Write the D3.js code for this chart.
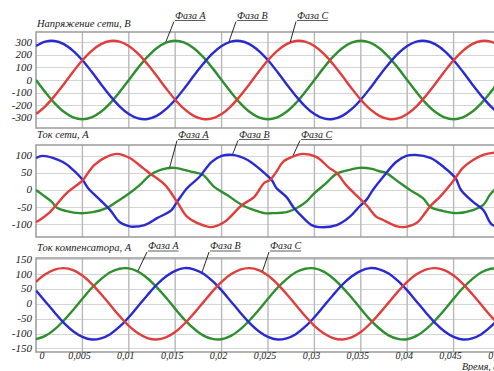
<!DOCTYPE html>
<html>
<head>
<meta charset="utf-8">
<script src="https://cdn.jsdelivr.net/npm/d3@7/dist/d3.min.js"></script>
<style>
  html, body { margin: 0; padding: 0; background: #fff; }
  svg { display: block; }
  text { font-family: "Liberation Serif", "Times New Roman", serif; font-style: italic; fill: #1a1a1a; }
</style>
</head>
<body>
<svg id="chart" width="494" height="371"></svg>
<script>
// ---- data -------------------------------------------------------------
// sample times for the voltage and compensator panels, ms
const timeMs = [0,1,2,3,4,5,6,7,8,9,10,11,12,13,14,15,16,17,18,19,20,
  21,22,23,24,25,26,27,28,29,30,31,32,33,34,35,36,37,38,39,40,
  41,42,43,44,45,46,47,48,49,50];

// grid voltage, V
const voltageA = [0,-96,-183,-252,-296,-311,-296,-252,-183,-96,0,96,183,252,296,311,296,252,183,96,
  0,-96,-183,-252,-296,-311,-296,-252,-183,-96,0,96,183,252,296,311,296,252,183,96,
  0,-96,-183,-252,-296,-311,-296,-252,-183,-96,0];
const voltageB = [269,304,309,284,231,156,65,-33,-126,-208,-269,-304,-309,-284,-231,-156,-65,33,126,208,
  269,304,309,284,231,156,65,-33,-126,-208,-269,-304,-309,-284,-231,-156,-65,33,126,208,
  269,304,309,284,231,156,65,-33,-126,-208,-269];
const voltageC = [-269,-208,-126,-33,65,156,231,284,309,304,269,208,126,33,-65,-156,-231,-284,-309,-304,
  -269,-208,-126,-33,65,156,231,284,309,304,269,208,126,33,-65,-156,-231,-284,-309,-304,
  -269,-208,-126,-33,65,156,231,284,309,304,269];

// grid current, A (distorted waveforms, each with its own sample times in ms)
const currentATime = [0,0.75,1.7,2.3,3.3,4.7,6.1,7.6,8.5,9.8,11.2,12.3,13.5,14.9,16.8,18.0,19.2,20.6,
  22.2,23.5,24.6,25.5,27.0,28.1,29.1,29.9,31.3,32.4,33.8,34.8,36.2,37.0,37.7,39.2,40.3,41.7,42.5,43.9,
  45.3,47.1,48.2,48.9,49.6,50];
const currentA = [0,-15,-35,-53,-62,-68,-65,-53,-38,-15,15,44,60,65,53,44,9,-15,
  -44,-59,-68,-68,-65,-53,-35,-12,21,48,59,65,62,55,50,21,0,-24,-50,-62,
  -68,-59,-44,-15,5,12];
const currentBTime = [0,0.75,2.9,4.0,5.05,5.6,6.9,8.0,9.0,10.1,10.4,11.7,13.1,14.6,15.2,16.3,17.6,18.9,20.0,21.2,
  22.8,24.6,25.4,25.9,27.0,27.8,28.7,29.7,30.5,32.4,33.8,34.8,35.6,36.3,37.4,38.8,39.9,40.9,42.5,43.9,
  45.2,45.8,47.1,48.2,48.9,49.2,50];
const currentB = [94,100,82,59,29,6,-29,-59,-94,-107,-108,-103,-82,-59,-35,6,38,82,100,103,
  88,50,29,6,-21,-53,-79,-103,-109,-103,-79,-50,-29,0,38,82,100,103,94,68,
  35,0,-35,-59,-94,-103,-108];
const currentCTime = [0,0.4,1.5,2.0,3.3,5.05,5.6,6.3,7.6,8.7,10.1,11.5,12.2,13.9,15.2,16.3,17.4,18.9,20.3,22.2,
  23.5,24.6,25.2,25.9,26.6,27.6,28.7,30.2,31.6,32.4,33.4,34.5,35.6,36.7,37.4,38.8,39.6,41.0,42.0,42.6,
  43.5,44.9,46.0,47.1,48.2,49.2,50];
const currentC = [-94,-88,-65,-50,-9,29,50,74,97,106,94,65,50,15,-35,-79,-97,-109,-94,-44,
  -21,21,29,53,82,97,106,97,65,50,15,-15,-44,-79,-88,-106,-109,-97,-65,-44,
  -21,24,65,88,103,109,108];

// compensator current, A
const compA = [-119,-108,-86,-56,-21,17,53,83,106,118,119,108,86,56,21,-17,-53,-83,-106,-118,
  -119,-108,-86,-56,-21,17,53,83,106,118,119,108,86,56,21,-17,-53,-83,-106,-118,
  -119,-108,-86,-56,-21,17,53,83,106,118,119];
const compB = [45,8,-29,-64,-92,-111,-120,-116,-102,-77,-45,-8,29,64,92,111,120,116,102,77,
  45,8,-29,-64,-92,-111,-120,-116,-102,-77,-45,-8,29,64,92,111,120,116,102,77,
  45,8,-29,-64,-92,-111,-120,-116,-102,-77,-45];
const compC = [74,99,115,120,113,95,67,33,-4,-41,-74,-99,-115,-120,-113,-95,-67,-33,4,41,
  74,99,115,120,113,95,67,33,-4,-41,-74,-99,-115,-120,-113,-95,-67,-33,4,41,
  74,99,115,120,113,95,67,33,-4,-41,-74];

// axis ticks
const xTickMs = [0,5,10,15,20,25,30,35,40,45,50];
const xTickLabels = ["0","0,005","0,01","0,015","0,02","0,025","0,03","0,035","0,04","0,045","0,05"];
const voltageTicks = [300,200,100,0,-100,-200,-300];
const currentTicks = [100,50,0,-50,-100];
const compTicks = [150,100,50,0,-50,-100,-150];

const phaseNames = ["Фаза А","Фаза В","Фаза С"];
const panelTitles = ["Напряжение сети, В","Ток сети, А","Ток компенсатора, А"];
const xAxisTitle = "Время, с";

// ---- layout -----------------------------------------------------------
const plotLeft = 36, plotRight = 500;
const colors = { A: "#2f8f2f", B: "#2a2ad2", C: "#e03c3c" };

const svg = d3.select("#chart");
const x = d3.scaleLinear().domain([0, 50]).range([plotLeft, plotRight]);

const panels = [
  { title: panelTitles[0], top: 32, bottom: 128, domain: [-380, 380], ticks: voltageTicks, titleY: 27,
    series: [
      { key: "A", t: timeMs, v: voltageA },
      { key: "B", t: timeMs, v: voltageB },
      { key: "C", t: timeMs, v: voltageC } ],
    labels: [ { key: "A", textX: 175, at: 14.0 }, { key: "B", textX: 237, at: 20.8 }, { key: "C", textX: 297, at: 27.4 } ],
    labelY: 18.5 },
  { title: panelTitles[1], top: 145, bottom: 237, domain: [-138, 132], ticks: currentTicks, titleY: 138,
    series: [
      { key: "A", t: currentATime, v: currentA },
      { key: "B", t: currentBTime, v: currentB },
      { key: "C", t: currentCTime, v: currentC } ],
    labels: [ { key: "A", textX: 178, at: 14.4 }, { key: "B", textX: 239, at: 21.2 }, { key: "C", textX: 301, at: 27.7 } ],
    labelY: 137.5 },
  { title: panelTitles[2], top: 258, bottom: 352, domain: [-162, 154], ticks: compTicks, titleY: 251,
    series: [
      { key: "A", t: timeMs, v: compA },
      { key: "B", t: timeMs, v: compB },
      { key: "C", t: timeMs, v: compC } ],
    labels: [ { key: "A", textX: 148, at: 11.0 }, { key: "B", textX: 210, at: 17.9 }, { key: "C", textX: 270, at: 24.4 } ],
    labelY: 249 }
];

// linear lookup of a series value at time t (ms)
function valueAt(ts, vs, t) {
  const i = Math.max(1, Math.min(ts.length - 1, d3.bisectLeft(ts, t)));
  const t0 = ts[i - 1], t1 = ts[i];
  const f = (t - t0) / (t1 - t0);
  return vs[i - 1] + f * (vs[i] - vs[i - 1]);
}

const defs = svg.append("defs");
defs.append("filter").attr("id", "soft")
  .append("feGaussianBlur").attr("stdDeviation", 0.35);

panels.forEach((p, pi) => {
  const y = d3.scaleLinear().domain(p.domain).range([p.bottom, p.top]);
  const g = svg.append("g");

  const clipId = "clip" + pi;
  defs.append("clipPath").attr("id", clipId)
    .append("rect").attr("x", plotLeft).attr("y", p.top)
    .attr("width", plotRight - plotLeft).attr("height", p.bottom - p.top);

  // horizontal grid
  g.selectAll("line.hgrid").data(p.ticks).join("line")
    .attr("x1", plotLeft).attr("x2", plotRight)
    .attr("y1", d => Math.round(y(d)) + 0.5).attr("y2", d => Math.round(y(d)) + 0.5)
    .attr("stroke", "#d4d4d4").attr("stroke-width", 1);

  // vertical grid
  g.selectAll("line.vgrid").data(xTickMs.slice(1)).join("line")
    .attr("x1", d => x(d)).attr("x2", d => x(d))
    .attr("y1", p.top).attr("y2", p.bottom)
    .attr("stroke", "#b8b8b8").attr("stroke-width", 1.4);

  // frame
  g.append("rect")
    .attr("x", plotLeft).attr("y", p.top)
    .attr("width", plotRight - plotLeft).attr("height", p.bottom - p.top)
    .attr("fill", "none").attr("stroke", "#9a9a9a").attr("stroke-width", 1.5);

  // y tick labels
  g.selectAll("text.ytick").data(p.ticks).join("text")
    .attr("x", 32).attr("y", d => y(d) + 3.5)
    .attr("text-anchor", "end").attr("font-size", 11)
    .text(d => d < 0 ? "-" + Math.abs(d) : String(d));

  // panel title
  g.append("text").attr("x", 37).attr("y", p.titleY)
    .attr("font-size", 10.5).text(p.title);

  // phase curves
  const line = d3.line().curve(d3.curveCatmullRom.alpha(0.5));
  const curves = g.append("g").attr("clip-path", `url(#${clipId})`).attr("filter", "url(#soft)");
  p.series.forEach(s => {
    const pts = s.t.map((t, i) => [x(t), y(s.v[i])]);
    curves.append("path").attr("d", line(pts))
      .attr("fill", "none").attr("stroke", colors[s.key])
      .attr("stroke-width", 2.4).attr("stroke-linejoin", "round");
  });

  // phase callouts
  p.labels.forEach(l => {
    const s = p.series.find(d => d.key === l.key);
    const tx = x(l.at), ty = y(valueAt(s.t, s.v, l.at));
    const name = phaseNames["ABC".indexOf(l.key)];
    const txt = g.append("text").attr("x", l.textX).attr("y", p.labelY)
      .attr("font-size", 10).text(name);
    const w = txt.node().getComputedTextLength();
    g.append("line").attr("x1", l.textX).attr("x2", l.textX + w)
      .attr("y1", p.labelY + 2).attr("y2", p.labelY + 2)
      .attr("stroke", "#333").attr("stroke-width", 0.8);
    g.append("line").attr("x1", l.textX - 1).attr("y1", p.labelY + 3)
      .attr("x2", tx).attr("y2", ty - 1)
      .attr("stroke", "#111").attr("stroke-width", 0.9);
  });
});

// time axis labels under the last panel
const xg = svg.append("g");
xg.selectAll("text").data(xTickMs).join("text")
  .attr("x", (d, i) => i === 0 ? x(d) + 6 : x(d) - 3)
  .attr("y", 359)
  .attr("text-anchor", "middle").attr("font-size", 10)
  .text((d, i) => xTickLabels[i]);
xg.append("text").attr("x", 462).attr("y", 370).attr("font-size", 10).text(xAxisTitle);
</script>
</body>
</html>
